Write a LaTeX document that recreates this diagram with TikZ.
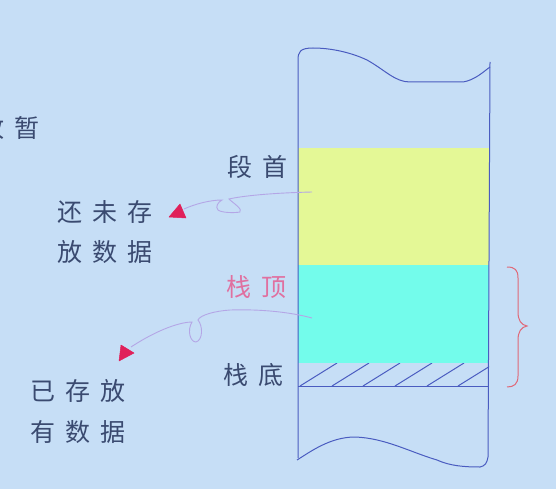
\documentclass[tikz,border=0pt]{standalone}
\usepackage{fontspec}
\newfontfamily\cjk{Noto Sans CJK SC}
\definecolor{bgc}{HTML}{C6DEF6}
\definecolor{yel}{HTML}{E4F896}
\definecolor{cya}{HTML}{73FCEB}
\definecolor{stk}{HTML}{4A5CC0}
\definecolor{txt}{HTML}{3A4A70}
\definecolor{pnk}{HTML}{E070A0}
\definecolor{tri}{HTML}{E0205A}
\definecolor{lav}{HTML}{B4A6E6}
\definecolor{brc}{HTML}{E06878}
\newcommand{\gp}{\hspace{10pt}}
\tikzset{
  lbl/.style={font=\cjk\fontsize{25}{30}\selectfont, text=txt, inner sep=0pt},
  pinklbl/.style={lbl, text=pnk},
  outline/.style={draw=stk, line width=1pt, line join=round},
  conn/.style={draw=lav, line width=0.9pt},
  tipshape/.style={fill=tri, draw=tri, line width=0.5pt, line join=round}
}
\begin{document}
\begin{tikzpicture}[x=1pt,y=-1pt]
\useasboundingbox (0,0) rectangle (556,489);
\fill[bgc] (0,0) rectangle (556,489);
% colored regions
\fill[yel] (298,148) rectangle (489,265);
\fill[cya] (298,265) rectangle (489,363);
% hatch
\begin{scope}
\clip (298,363) rectangle (489,386);
\foreach \b in {300,332,363,395,427,458}
  \draw[stk, line width=1pt] (\b,386) -- ++(37,-23);
\end{scope}
\draw[stk, line width=1pt] (298,386) -- (489,386);
% stack outline
\draw[outline] (490,62) -- (488,457);
\draw[outline] (298,458) -- (298,60) .. controls (298,52) and (300,48) .. (313,48)
  .. controls (330,48) and (350,52) .. (367,60)
  .. controls (385,70) and (395,82) .. (410,82)
  -- (463,82) .. controls (475,80) and (483,72) .. (490,67);
\draw[outline] (297,460) .. controls (310,452) and (330,437) .. (355,437)
  .. controls (385,438) and (410,452) .. (437,460)
  .. controls (450,466) and (465,467) .. (480,467)
  .. controls (485,466) and (487,463) .. (488,457);
% brace
\draw[brc, line width=1pt] (507,267) .. controls (515,267) and (518,270) .. (518,278)
  -- (518,312) .. controls (518,320) and (521,325) .. (527,326)
  .. controls (521,327) and (518,332) .. (518,340)
  -- (518,376) .. controls (518,384) and (514,387) .. (507,387);
% labels
\node[lbl] (duanshou) at (257,167) {段\gp 首};
\node[pinklbl] (zhanding) at (256,287) {栈\gp 顶};
\node[lbl] (zhandi) at (253,375) {栈\gp 底};
\node[lbl] (zan) at (10,128) {放\gp 暂};
\node[lbl] (weicun1) at (105,212) {还\gp 未\gp 存};
\node[lbl] (weicun2) at (105,252) {放\gp 数\gp 据};
\node[lbl] (yicun1) at (78,391) {已\gp 存\gp 放};
\node[lbl] (yicun2) at (78,432) {有\gp 数\gp 据};
% connector ends
\coordinate (s1) at (312,192);
\coordinate (t1) at (184,209);
\coordinate (s2) at (312,318);
\coordinate (t2) at (131,347);
% connector 1 with loop
\draw[conn] (s1) .. controls (270,193) and (242,196) .. (229,199)
  .. controls (233,203) and (243,209) .. (240,212)
  .. controls (235,213) and (222,213) .. (218,210)
  .. controls (215,207) and (218,202) .. (222,200)
  .. controls (210,200) and (195,204) .. (t1);
% connector 2 with loop
\draw[conn] (s2) .. controls (290,312) and (260,309) .. (230,310)
  .. controls (215,311) and (200,315) .. (198,320)
  .. controls (203,326) and (203,340) .. (196,342)
  .. controls (190,342) and (187,330) .. (192,322)
  .. controls (182,322) and (160,328) .. (t2);
% arrow tips
\filldraw[tipshape] (180,204) -- (186,218) -- (169,217) -- cycle;
\filldraw[tipshape] (121,345) -- (134,353) -- (119,361) -- cycle;
\end{tikzpicture}
\end{document}
